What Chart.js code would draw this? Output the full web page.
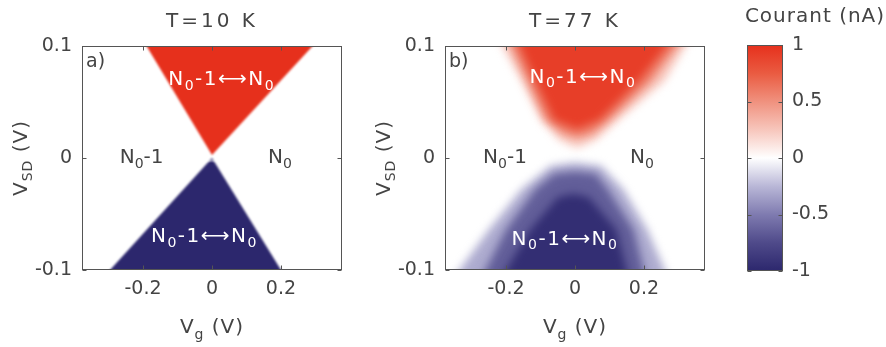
<!DOCTYPE html>
<html>
<head>
<meta charset="utf-8">
<script src="https://cdn.jsdelivr.net/npm/chart.js@4/dist/chart.umd.min.js"></script>
<style>
  html, body { margin: 0; padding: 0; background: #fff; }
  #wrap { position: relative; width: 886px; height: 347px; overflow: hidden; }
  .pane { position: absolute; top: 0; }
</style>
</head>
<body>
<div id="wrap">
  <canvas id="panelA" class="pane" width="350" height="347" style="left:0px"></canvas>
  <canvas id="panelB" class="pane" width="350" height="347" style="left:360px"></canvas>
  <canvas id="cbar" class="pane" width="166" height="347" style="left:720px"></canvas>
</div>
<script>
// ---- axes -------------------------------------------------------------
const vgTicks = [-0.2, 0, 0.2];
const vsdTicks = [-0.1, 0, 0.1];
const vgLimits = [-0.377, 0.377];
const vsdLimits = [-0.1, 0.1];
const currentTicks = [-1, -0.5, 0, 0.5, 1];
const currentLimits = [-1, 1];

// ---- colour map for the current (nA) ----------------------------------
const cmapLevels = [-1, -0.75, -0.5, -0.25, 0, 0.25, 0.5, 0.75, 1];
const cmapColors = ['#2c276d', '#4f4a8a', '#7f7bb0', '#b9b7d7', '#ffffff',
                    '#f7c6bc', '#f0917e', '#ea5b41', '#e6301c'];

// ---- T = 10 K : edges of the conducting regions (Vg, Vsd) --------------
const edge10Pos = [[-0.229, 0.12], [0.0, 0.0027], [0.352, 0.12]];
const edge10Neg = [[-0.355, -0.12], [0.0, 0.0], [0.24, -0.12]];
const current10 = [1, -1];
const gap10 = [[-0.03, -0.0022], [0.03, -0.0022]];

// ---- T = 77 K : iso-current edges (Vg, Vsd) ---------------------------
const iso77PosOuter = [[-0.263, 0.13], [-0.21, 0.1], [-0.155, 0.069], [-0.098, 0.034],
                       [-0.045, 0.016], [0.006, 0.009], [0.06, 0.016], [0.125, 0.034],
                       [0.26, 0.069], [0.32, 0.1], [0.378, 0.13]];
const iso77PosMid   = [[-0.231, 0.13], [-0.185, 0.1], [-0.138, 0.069], [-0.085, 0.034],
                       [-0.035, 0.022], [0.006, 0.018], [0.05, 0.022], [0.098, 0.034],
                       [0.22, 0.069], [0.295, 0.1], [0.368, 0.13]];
const iso77PosCore  = [[-0.204, 0.13], [-0.16, 0.1], [-0.115, 0.069], [-0.06, 0.034],
                       [0.006, 0.026], [0.07, 0.034], [0.185, 0.069], [0.265, 0.1],
                       [0.342, 0.13]];
const iso77NegOuter = [[-0.406, -0.13], [-0.335, -0.1], [-0.25, -0.064], [-0.155, -0.028],
                       [-0.07, -0.007], [0.0, -0.004], [0.075, -0.007], [0.14, -0.028],
                       [0.21, -0.064], [0.26, -0.1], [0.302, -0.13]];
const iso77NegMid   = [[-0.31, -0.13], [-0.26, -0.1], [-0.2, -0.064], [-0.115, -0.028],
                       [-0.06, -0.014], [0.0, -0.012], [0.06, -0.014], [0.095, -0.028],
                       [0.17, -0.064], [0.2, -0.1], [0.225, -0.13]];
const iso77NegCore  = [[-0.258, -0.13], [-0.2, -0.1], [-0.13, -0.064], [-0.05, -0.035],
                       [-0.005, -0.032], [0.04, -0.035], [0.12, -0.064], [0.15, -0.1],
                       [0.175, -0.13]];
const current77 = [0.25, 0.6, 0.92, -0.3, -0.65, -0.95];

// ---- charge-state annotations -----------------------------------------
const notesA = [
  { text: 'N_{0}-1⟷N_{0}', vg: 0.028, vsd: 0.0695, light: true },
  { text: 'N_{0}-1⟷N_{0}', vg: -0.022, vsd: -0.0705, light: true },
  { text: 'N_{0}-1', vg: -0.204, vsd: 0, light: false },
  { text: 'N_{0}', vg: 0.197, vsd: 0, light: false }
];
const notesB = [
  { text: 'N_{0}-1⟷N_{0}', vg: 0.023, vsd: 0.072, light: true },
  { text: 'N_{0}-1⟷N_{0}', vg: -0.029, vsd: -0.073, light: true },
  { text: 'N_{0}-1', vg: -0.203, vsd: 0, light: false },
  { text: 'N_{0}', vg: 0.194, vsd: 0, light: false }
];

// ---- styling ----------------------------------------------------------
const FONT = '"DejaVu Sans", sans-serif';
const INK = '#444444';
const FRAME = '#555555';

function hexToRgb(h) {
  return [1, 3, 5].map(i => parseInt(h.slice(i, i + 2), 16));
}
function currentColor(v) {
  const n = cmapLevels.length;
  if (v <= cmapLevels[0]) return cmapColors[0];
  if (v >= cmapLevels[n - 1]) return cmapColors[n - 1];
  let i = 0;
  while (v > cmapLevels[i + 1]) i++;
  const t = (v - cmapLevels[i]) / (cmapLevels[i + 1] - cmapLevels[i]);
  const a = hexToRgb(cmapColors[i]), b = hexToRgb(cmapColors[i + 1]);
  const c = a.map((x, k) => Math.round(x + (b[k] - x) * t));
  return `rgb(${c[0]},${c[1]},${c[2]})`;
}

// text with _{...} subscripts
function richParts(str) {
  const parts = [];
  const re = /_\{([^}]*)\}/g;
  let last = 0, m;
  while ((m = re.exec(str))) {
    if (m.index > last) parts.push({ t: str.slice(last, m.index), sub: false });
    parts.push({ t: m[1], sub: true });
    last = re.lastIndex;
  }
  if (last < str.length) parts.push({ t: str.slice(last), sub: false });
  return parts;
}
function drawRich(ctx, str, x, y, opt = {}) {
  const size = opt.size || 19;
  const parts = richParts(str);
  ctx.save();
  ctx.fillStyle = opt.color || INK;
  ctx.textBaseline = opt.baseline || 'middle';
  ctx.textAlign = 'left';
  ctx.letterSpacing = (opt.spacing || 0) + 'px';
  const fontOf = p => `${p.sub ? Math.round(size * 0.68) : size}px ${FONT}`;
  const widths = parts.map(p => { ctx.font = fontOf(p); return ctx.measureText(p.t).width; });
  const total = widths.reduce((s, w) => s + w, 0);
  const align = opt.align || 'center';
  let cx = align === 'center' ? x - total / 2 : (align === 'right' ? x - total : x);
  parts.forEach((p, i) => {
    ctx.font = fontOf(p);
    ctx.fillText(p.t, cx, p.sub ? y + size * 0.3 : y);
    cx += widths[i];
  });
  ctx.restore();
}

// blur of the map, frame with inward ticks, titles and annotations
const decor = {
  id: 'decor',
  beforeDatasetsDraw(chart, args, o) {
    if (o.blur) chart.ctx.filter = `blur(${o.blur}px)`;
  },
  afterDatasetsDraw(chart, args, o) {
    const ctx = chart.ctx;
    ctx.filter = 'none';
    const a = chart.chartArea;
    const xs = chart.scales.x, ys = chart.scales.y;

    (o.notes || []).forEach(n => {
      drawRich(ctx, n.text, xs.getPixelForValue(n.vg), ys.getPixelForValue(n.vsd),
        { size: 20, color: n.light ? '#ffffff' : INK, spacing: n.light ? 1.5 : 0 });
    });

    const L = Math.round(a.left) + 0.5, R = Math.round(a.right) - 0.5;
    const T = Math.round(a.top) + 0.5, B = Math.round(a.bottom) - 0.5;
    ctx.save();
    ctx.strokeStyle = FRAME;
    ctx.lineWidth = 1;
    ctx.strokeRect(L, T, R - L, B - T);
    ctx.beginPath();
    if (o.xTicks) {
      xs.ticks.forEach(t => {
        const px = Math.round(xs.getPixelForValue(t.value)) + 0.5;
        ctx.moveTo(px, B); ctx.lineTo(px, B - 4);
        ctx.moveTo(px, T); ctx.lineTo(px, T + 4);
      });
    }
    ys.ticks.forEach(t => {
      const py = Math.round(ys.getPixelForValue(t.value)) + 0.5;
      ctx.moveTo(L, py); ctx.lineTo(L + 4, py);
      ctx.moveTo(R, py); ctx.lineTo(R - 4, py);
    });
    ctx.stroke();
    ctx.restore();

    const cx = (a.left + a.right) / 2, cy = (a.top + a.bottom) / 2;
    if (o.tag) drawRich(ctx, o.tag, a.left + 4, a.top + 16, { size: 19, align: 'left' });
    if (o.title) drawRich(ctx, o.title, o.titleX != null ? a.right + o.titleX : cx, a.top - (o.titleUp || 19),
      { size: 20, baseline: 'alphabetic', spacing: o.titleSpacing || 0 });
    if (o.xTitle) drawRich(ctx, o.xTitle, cx, a.bottom + 63, { size: 20, baseline: 'alphabetic', spacing: 1 });
    if (o.yTitle) {
      ctx.save();
      ctx.translate(a.left - 60, cy);
      ctx.rotate(-Math.PI / 2);
      drawRich(ctx, o.yTitle, 0, 0, { size: 20, spacing: 1 });
      ctx.restore();
    }
  }
};

const tickFont = { family: FONT, size: 19 };

function region(points, level, order) {
  return {
    data: points.map(([x, y]) => ({ x, y })),
    fill: { value: level > 0 ? 0.16 : -0.16 },
    backgroundColor: currentColor(level),
    borderColor: 'rgba(0,0,0,0)',
    borderWidth: 0,
    pointRadius: 0,
    pointHoverRadius: 0,
    tension: 0,
    order
  };
}

function diamondChart(canvasId, datasets, axisWidth, padRight, deco) {
  return new Chart(document.getElementById(canvasId), {
    type: 'line',
    data: { datasets },
    options: {
      responsive: false,
      animation: false,
      devicePixelRatio: 1,
      events: [],
      layout: { padding: { left: 0, right: padRight, top: 46, bottom: 0 } },
      scales: {
        x: {
          type: 'linear', min: vgLimits[0], max: vgLimits[1],
          afterBuildTicks: s => { s.ticks = vgTicks.map(value => ({ value })); },
          afterFit: s => { s.height = 77; },
          grid: { display: false, drawTicks: false },
          border: { display: false },
          ticks: { font: tickFont, color: INK, padding: 8, maxRotation: 0, autoSkip: false,
                   callback: v => String(v) }
        },
        y: {
          type: 'linear', min: vsdLimits[0], max: vsdLimits[1],
          afterBuildTicks: s => { s.ticks = vsdTicks.map(value => ({ value })); },
          afterFit: s => { s.width = axisWidth; },
          grid: { display: false, drawTicks: false },
          border: { display: false },
          ticks: { font: tickFont, color: INK, padding: 10, autoSkip: false,
                   callback: v => String(v) }
        }
      },
      plugins: { legend: { display: false }, tooltip: { enabled: false }, decor: deco }
    },
    plugins: [decor]
  });
}

// T = 10 K
diamondChart('panelA', [
  {
    data: gap10.map(([x, y]) => ({ x, y })),
    fill: false, borderColor: '#ffffff', borderWidth: 1.3, pointRadius: 0, order: -1
  },
  region(edge10Pos, current10[0], 0),
  region(edge10Neg, current10[1], 0)
], 82, 8, {
  blur: 0.8, xTicks: true, notes: notesA, tag: 'a)',
  title: 'T=10 K', titleSpacing: 3, xTitle: 'V_{g} (V)', yTitle: 'V_{SD} (V)'
});

// T = 77 K
const iso77 = [iso77PosOuter, iso77PosMid, iso77PosCore, iso77NegOuter, iso77NegMid, iso77NegCore];
diamondChart('panelB', iso77.map((pts, i) => region(pts, current77[i], 2 - (i % 3))),
  85, 5, {
  blur: 4, xTicks: true, notes: notesB, tag: 'b)',
  title: 'T=77 K', titleSpacing: 3, xTitle: 'V_{g} (V)', yTitle: 'V_{SD} (V)'
});

// colour bar
new Chart(document.getElementById('cbar'), {
  type: 'bar',
  data: {
    labels: ['I'],
    datasets: [{
      data: [currentLimits],
      borderWidth: 0,
      barPercentage: 1,
      categoryPercentage: 1,
      backgroundColor: c => {
        const ch = c.chart, ys = ch.scales.y;
        if (!ys || !ch.chartArea) return cmapColors[4];
        const lo = currentLimits[0], hi = currentLimits[1];
        const g = ch.ctx.createLinearGradient(0, ys.getPixelForValue(lo), 0, ys.getPixelForValue(hi));
        cmapLevels.forEach((l, i) => g.addColorStop((l - lo) / (hi - lo), cmapColors[i]));
        return g;
      }
    }]
  },
  options: {
    responsive: false,
    animation: false,
    devicePixelRatio: 1,
    events: [],
    layout: { padding: { left: 27, right: 0, top: 45, bottom: 76 } },
    scales: {
      x: { display: false },
      y: {
        position: 'right', min: currentLimits[0], max: currentLimits[1],
        afterBuildTicks: s => { s.ticks = currentTicks.map(value => ({ value })); },
        afterFit: s => { s.width = 103; },
        grid: { display: false, drawTicks: false },
        border: { display: false },
        ticks: { font: tickFont, color: INK, padding: 9, autoSkip: false, callback: v => String(v) }
      }
    },
    plugins: {
      legend: { display: false }, tooltip: { enabled: false },
      decor: { xTicks: false, title: 'Courant (nA)', titleX: 32, titleUp: 23, titleSpacing: 1 }
    }
  },
  plugins: [decor]
});
</script>
</body>
</html>
